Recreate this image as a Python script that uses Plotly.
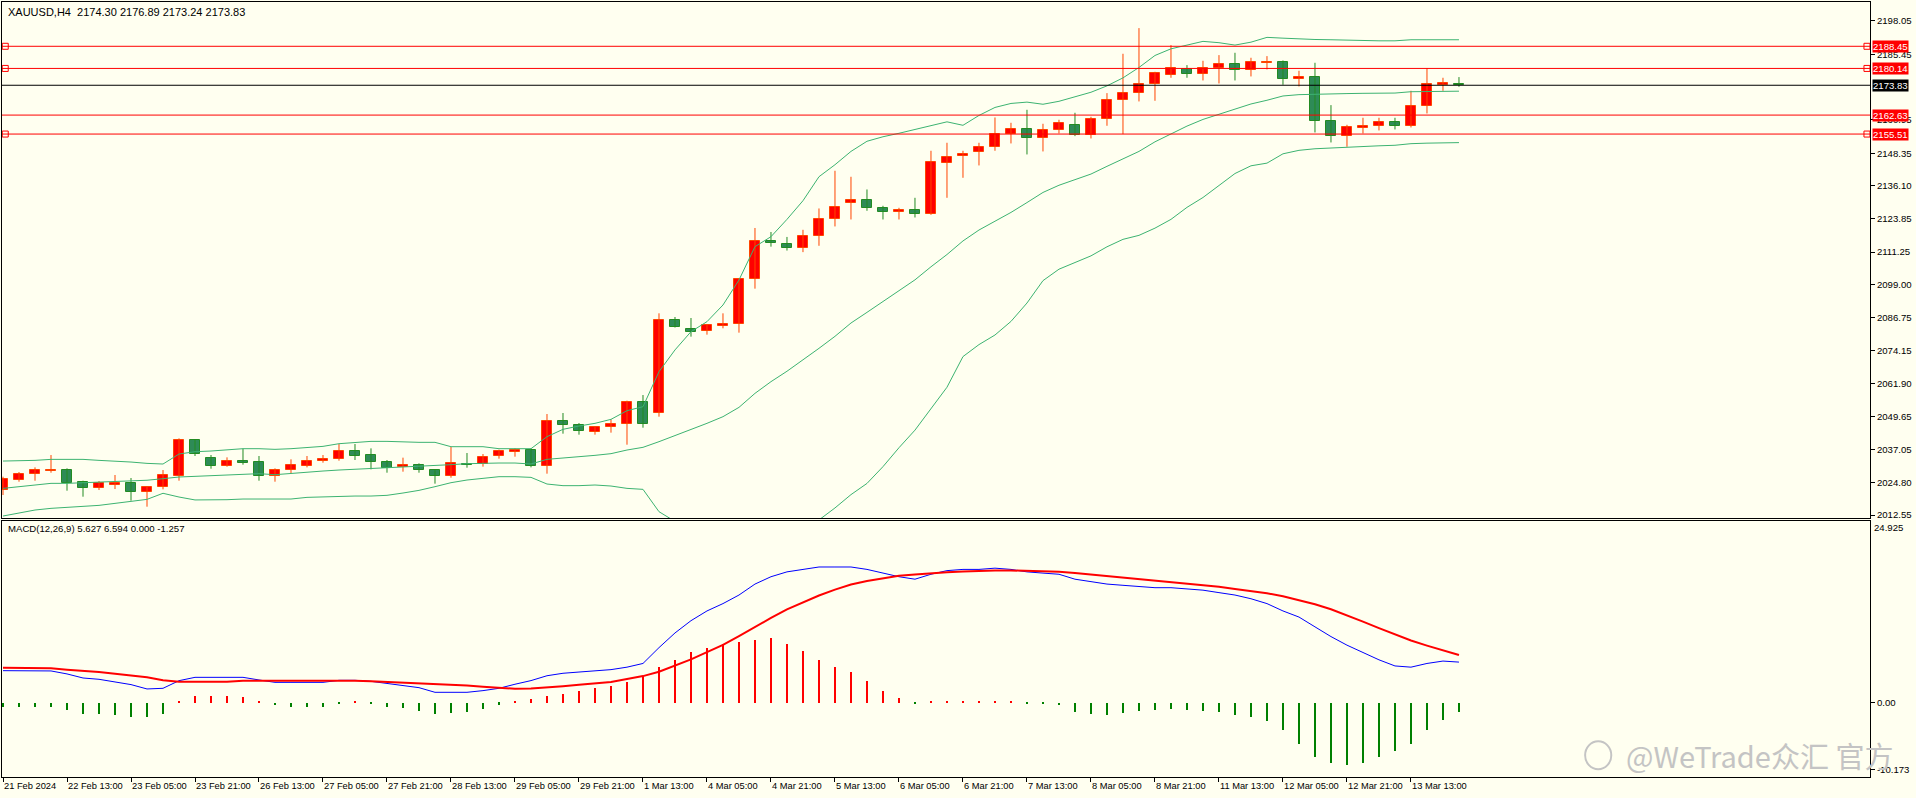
import plotly.graph_objects as go

# ---------------- data ----------------
x_labels = ["21 Feb 2024", "22 Feb 13:00", "23 Feb 05:00", "23 Feb 21:00", "26 Feb 13:00",
            "27 Feb 05:00", "27 Feb 21:00", "28 Feb 13:00", "29 Feb 05:00", "29 Feb 21:00",
            "1 Mar 13:00", "4 Mar 05:00", "4 Mar 21:00", "5 Mar 13:00", "6 Mar 05:00",
            "6 Mar 21:00", "7 Mar 13:00", "8 Mar 05:00", "8 Mar 21:00", "11 Mar 13:00",
            "12 Mar 05:00", "12 Mar 21:00", "13 Mar 13:00"]
x_label_bars = [0, 4, 8, 12, 16, 20, 24, 28, 32, 36, 40, 44, 48, 52, 56, 60, 64, 68, 72, 76, 80, 84, 88]

opens = [2021.93, 2025.68, 2027.81, 2029.18, 2029.43, 2024.80, 2022.55, 2023.93, 2024.43, 2021.05,
         2022.93, 2027.31, 2040.57, 2033.81, 2030.81, 2032.81, 2032.31, 2027.31, 2029.31, 2031.06,
         2032.69, 2033.44, 2036.56, 2035.06, 2032.44, 2030.56, 2031.19, 2029.31, 2027.31, 2031.81,
         2031.56, 2034.81, 2036.32, 2036.82, 2030.81, 2047.82, 2046.20, 2043.57, 2045.45, 2046.57,
         2054.96, 2050.70, 2085.61, 2082.23, 2081.48, 2083.61, 2084.11, 2100.99, 2115.38, 2114.21,
         2112.80, 2117.21, 2123.59, 2129.59, 2130.84, 2127.72, 2126.09, 2127.09, 2125.34, 2144.61,
         2147.11, 2148.61, 2150.61, 2155.49, 2157.37, 2153.99, 2156.99, 2159.00, 2155.11, 2161.12,
         2168.25, 2170.88, 2174.25, 2177.63, 2180.01, 2178.01, 2180.26, 2181.76, 2179.51, 2182.01,
         2182.51, 2176.13, 2176.88, 2160.37, 2154.74, 2157.74, 2158.49, 2159.99, 2158.49, 2166.00,
         2174.00, 2174.30]
highs = [2026.93, 2028.68, 2030.43, 2035.06, 2030.06, 2025.43, 2025.30, 2027.56, 2026.43, 2023.43,
         2029.43, 2041.32, 2040.80, 2035.06, 2034.19, 2037.44, 2034.69, 2030.06, 2033.44, 2034.69,
         2035.06, 2039.19, 2039.19, 2037.56, 2033.19, 2034.07, 2031.94, 2029.40, 2038.07, 2035.82,
         2035.44, 2037.07, 2037.57, 2037.57, 2050.45, 2050.83, 2047.07, 2045.95, 2048.45, 2055.46,
         2057.58, 2088.24, 2086.86, 2086.48, 2083.98, 2088.24, 2101.37, 2120.26, 2118.76, 2116.90,
         2119.58, 2127.59, 2141.73, 2139.48, 2134.72, 2128.59, 2127.84, 2131.59, 2149.24, 2152.24,
         2149.24, 2152.24, 2161.74, 2159.74, 2164.62, 2159.37, 2160.87, 2163.50, 2162.00, 2170.88,
         2185.64, 2195.27, 2178.88, 2188.89, 2181.39, 2183.01, 2185.14, 2186.01, 2184.14, 2184.76,
         2183.14, 2179.26, 2182.26, 2166.37, 2158.99, 2161.62, 2161.62, 2161.62, 2171.75, 2180.26,
         2176.63, 2176.89]
lows = [2020.05, 2025.05, 2025.43, 2028.43, 2021.68, 2019.42, 2021.93, 2022.30, 2017.92, 2015.67,
        2022.18, 2025.43, 2034.69, 2029.93, 2030.68, 2031.43, 2025.43, 2025.05, 2028.18, 2030.43,
        2032.19, 2032.94, 2033.19, 2029.68, 2028.43, 2028.81, 2028.43, 2024.31, 2026.56, 2030.31,
        2030.69, 2033.69, 2034.44, 2030.44, 2028.06, 2043.07, 2042.70, 2042.70, 2043.45, 2038.94,
        2045.32, 2049.45, 2082.90, 2079.48, 2080.23, 2082.61, 2080.98, 2097.49, 2113.25, 2111.80,
        2111.20, 2113.58, 2120.84, 2123.46, 2126.72, 2123.46, 2123.46, 2124.21, 2125.20, 2131.59,
        2139.10, 2143.73, 2149.24, 2151.99, 2147.86, 2148.99, 2155.74, 2154.74, 2153.86, 2158.62,
        2155.49, 2167.75, 2168.00, 2176.63, 2176.63, 2175.63, 2174.50, 2175.63, 2177.13, 2179.76,
        2174.00, 2173.38, 2156.11, 2152.36, 2150.74, 2155.74, 2156.87, 2157.24, 2157.99, 2163.25,
        2171.75, 2173.24]
closes = [2025.93, 2027.81, 2029.43, 2029.43, 2024.68, 2022.55, 2024.43, 2024.55, 2021.05, 2022.93,
          2027.43, 2040.57, 2035.31, 2030.81, 2032.69, 2032.19, 2027.31, 2029.43, 2031.18, 2032.81,
          2033.56, 2036.56, 2034.81, 2032.31, 2030.25, 2031.19, 2029.31, 2027.31, 2031.94, 2031.44,
          2034.19, 2036.44, 2036.94, 2030.81, 2047.70, 2046.20, 2043.95, 2045.45, 2046.57, 2054.96,
          2046.57, 2085.61, 2082.98, 2081.35, 2083.73, 2084.23, 2100.99, 2115.26, 2114.50, 2112.60,
          2117.33, 2123.71, 2128.09, 2130.84, 2127.59, 2126.09, 2126.97, 2125.34, 2145.11, 2146.86,
          2148.11, 2150.61, 2155.36, 2157.37, 2153.86, 2156.99, 2159.62, 2155.00, 2161.12, 2168.25,
          2170.88, 2174.25, 2178.38, 2180.26, 2178.01, 2180.13, 2181.76, 2179.51, 2182.51, 2182.51,
          2176.13, 2176.88, 2160.24, 2154.74, 2158.12, 2158.62, 2159.99, 2158.49, 2166.00, 2174.25,
          2174.63, 2173.83]

bb_upper = [2032.80, 2032.80, 2033.06, 2033.43, 2033.43, 2033.43, 2033.06, 2032.80, 2032.43, 2031.93,
            2031.68, 2035.44, 2036.31, 2036.56, 2037.06, 2037.44, 2037.44, 2037.19, 2037.44, 2037.81,
            2038.31, 2039.31, 2039.81, 2040.19, 2040.19, 2039.90, 2039.82, 2039.82, 2038.19, 2038.19,
            2038.19, 2037.44, 2037.44, 2037.44, 2041.94, 2044.70, 2045.95, 2046.95, 2048.45, 2051.70,
            2053.20, 2066.34, 2074.50, 2081.35, 2085.11, 2091.36, 2100.74, 2113.25, 2117.00, 2123.50,
            2130.50, 2139.50, 2144.00, 2149.00, 2152.80, 2154.50, 2155.80, 2157.20, 2158.80, 2160.10,
            2158.80, 2162.50, 2165.50, 2167.00, 2167.50, 2166.70, 2167.80, 2169.40, 2171.20, 2173.60,
            2176.60, 2180.50, 2185.00, 2187.50, 2189.00, 2190.30, 2189.80, 2188.90, 2190.00, 2191.80,
            2191.50, 2191.20, 2191.00, 2190.90, 2190.70, 2190.60, 2190.50, 2190.50, 2190.90, 2190.90,
            2190.90, 2190.90]
bb_middle = [2022.55, 2023.18, 2023.93, 2024.43, 2024.43, 2024.68, 2024.93, 2025.30, 2025.56, 2025.60,
             2026.18, 2026.81, 2027.06, 2027.31, 2027.56, 2028.06, 2028.06, 2027.68, 2028.18, 2028.81,
             2029.06, 2029.43, 2029.68, 2029.93, 2030.30, 2030.69, 2030.75, 2030.94, 2031.44, 2031.81,
             2032.06, 2032.06, 2032.06, 2031.69, 2033.44, 2033.81, 2034.44, 2034.94, 2035.57, 2036.94,
             2037.95, 2040.07, 2042.32, 2044.45, 2046.95, 2049.45, 2052.95, 2058.20, 2062.59, 2066.50,
             2070.70, 2075.10, 2079.60, 2084.60, 2088.60, 2092.60, 2096.80, 2100.80, 2105.70, 2110.30,
             2115.40, 2119.50, 2122.80, 2126.10, 2129.80, 2133.60, 2136.30, 2138.40, 2140.50, 2143.40,
             2146.30, 2149.00, 2152.60, 2155.50, 2158.50, 2161.00, 2163.00, 2164.80, 2166.80, 2168.20,
             2169.80, 2170.30, 2170.50, 2170.60, 2170.70, 2170.80, 2170.80, 2170.90, 2171.40, 2171.50,
             2171.60, 2171.60]
bb_lower = [2012.17, 2013.17, 2014.42, 2015.05, 2015.42, 2015.67, 2016.17, 2016.92, 2017.55, 2018.42,
            2020.70, 2019.30, 2018.20, 2018.20, 2018.30, 2018.55, 2018.55, 2018.55, 2018.55, 2019.17,
            2019.42, 2019.67, 2019.67, 2019.67, 2019.93, 2020.80, 2021.80, 2023.18, 2024.68, 2025.68,
            2026.30, 2026.93, 2026.93, 2026.68, 2024.18, 2023.56, 2023.56, 2023.81, 2023.43, 2022.55,
            2022.18, 2013.80, 2010.14, 2007.55, 2008.79, 2007.54, 2005.16, 2003.15, 2008.20, 2009.50,
            2010.90, 2010.70, 2015.20, 2020.20, 2024.40, 2030.70, 2037.80, 2044.40, 2052.60, 2060.50,
            2072.00, 2076.50, 2080.10, 2085.20, 2092.10, 2100.50, 2104.80, 2107.40, 2109.80, 2113.20,
            2116.00, 2117.50, 2120.20, 2123.50, 2128.00, 2131.70, 2136.20, 2140.70, 2143.60, 2144.60,
            2148.10, 2149.40, 2150.00, 2150.30, 2150.70, 2151.00, 2151.10, 2151.30, 2151.90, 2152.10,
            2152.30, 2152.30]

macd_main = [4.45, 4.45, 4.45, 4.41, 4.00, 3.44, 3.26, 2.89, 2.53, 1.93,
             2.02, 3.07, 3.53, 3.53, 3.53, 3.53, 3.17, 2.84, 2.84, 2.84,
             2.84, 3.12, 3.12, 2.98, 2.71, 2.48, 2.11, 1.47, 1.47, 1.47,
             1.70, 2.02, 2.58, 3.08, 3.75, 4.09, 4.26, 4.43, 4.59, 4.93,
             5.44, 7.62, 9.64, 11.33, 12.67, 13.68, 14.86, 16.37, 17.38, 18.05,
             18.39, 18.72, 18.72, 18.72, 18.39, 17.88, 17.38, 17.04, 17.72, 18.22,
             18.39, 18.39, 18.56, 18.39, 18.05, 17.88, 17.72, 17.04, 16.71, 16.37,
             16.20, 16.04, 15.87, 15.87, 15.70, 15.53, 15.19, 14.86, 14.35, 13.68,
             12.67, 11.83, 10.48, 9.14, 7.96, 6.95, 5.94, 5.10, 4.93, 5.44,
             5.77, 5.627]
macd_signal = [4.86, 4.86, 4.86, 4.77, 4.59, 4.45, 4.27, 4.04, 3.81, 3.53,
               3.12, 2.94, 2.94, 2.94, 2.94, 3.07, 3.07, 3.07, 3.17, 3.17,
               3.17, 3.17, 3.07, 2.98, 2.89, 2.84, 2.71, 2.61, 2.52, 2.39,
               2.25, 2.06, 1.95, 1.98, 2.10, 2.30, 2.50, 2.70, 2.90, 3.30,
               3.70, 4.30, 5.10, 6.00, 7.00, 8.00, 9.20, 10.50, 11.70, 12.90,
               13.90, 14.80, 15.60, 16.30, 16.80, 17.20, 17.50, 17.70, 17.90, 18.00,
               18.10, 18.20, 18.25, 18.25, 18.20, 18.15, 18.05, 17.90, 17.70, 17.50,
               17.30, 17.05, 16.80, 16.60, 16.40, 16.20, 16.00, 15.70, 15.45, 15.10,
               14.70, 14.20, 13.60, 12.90, 12.10, 11.20, 10.30, 9.40, 8.60, 7.90,
               7.20, 6.594]
macd_hist = [-0.50, -0.60, -0.55, -0.50, -0.90, -1.47, -1.47, -1.60, -1.90, -1.90,
             -1.47, 0.28, 0.96, 0.96, 0.96, 0.83, 0.28, -0.28, -0.50, -0.50,
             -0.50, -0.10, 0.14, -0.10, -0.50, -0.64, -1.05, -1.47, -1.33, -1.20,
             -0.78, -0.23, 0.15, 0.50, 1.00, 1.30, 1.70, 2.00, 2.40, 2.90,
             3.70, 5.00, 5.90, 7.00, 7.60, 8.10, 8.40, 8.70, 8.90, 8.10,
             7.10, 5.90, 5.00, 4.20, 3.00, 1.70, 0.70, -0.20, 0.20, 0.30,
             0.30, 0.20, 0.30, 0.20, -0.10, -0.20, -0.30, -1.30, -1.50, -1.60,
             -1.40, -1.10, -0.90, -0.80, -0.90, -1.10, -1.30, -1.60, -2.00, -2.50,
             -3.70, -5.70, -7.40, -8.20, -8.60, -8.20, -7.40, -6.60, -5.70, -3.70,
             -2.40, -1.257]

price_ticks = [2198.05, 2185.45, 2160.95, 2148.35, 2136.10, 2123.85, 2111.25, 2099.00,
               2086.75, 2074.15, 2061.90, 2049.65, 2037.05, 2024.80, 2012.55]
red_levels = [2188.45, 2180.14, 2162.63, 2155.51]
red_levels_marked = [2188.45, 2180.14, 2155.51]
current_price = 2173.83
title_text = "XAUUSD,H4&nbsp;&nbsp;2174.30 2176.89 2173.24 2173.83"
macd_text = "MACD(12,26,9) 5.627 6.594 0.000 -1.257"
macd_max_label = "24.925"
macd_min_label = "-10.173"
watermark = "@WeTrade众汇 官方"

# ---------------- styling ----------------
BG = "#FFFFF0"
UP_FILL, UP_LINE = "#FF0000", "#FF4500"
DN_FILL, DN_LINE = "#2E8B57", "#228B22"
BAND = "#3CB371"
FONT = "Liberation Sans, Arial, sans-serif"
FS_TITLE = 11
FS_MACD = 9.6
FS_Y = 9.6
FS_X = 9.3

n = len(closes)
bars = list(range(n))

fig = go.Figure()

# wicks
for up, col in [(True, UP_LINE), (False, DN_LINE)]:
    xs, ys = [], []
    for i in bars:
        if (closes[i] >= opens[i]) == up:
            xs += [i, i, None]
            ys += [lows[i], highs[i], None]
    fig.add_trace(go.Scatter(x=xs, y=ys, mode="lines", line=dict(color=col, width=1),
                             xaxis="x", yaxis="y", hoverinfo="skip"))

# bodies
for up, fill, line in [(True, UP_FILL, UP_LINE), (False, DN_FILL, DN_LINE)]:
    idx = [i for i in bars if (closes[i] >= opens[i]) == up]
    fig.add_trace(go.Bar(
        x=idx,
        base=[min(opens[i], closes[i]) for i in idx],
        y=[max(abs(closes[i] - opens[i]), 0.05) for i in idx],
        width=0.6,
        marker=dict(color=fill, line=dict(color=line, width=1)),
        xaxis="x", yaxis="y", hoverinfo="skip"))

# Bollinger bands
for band in (bb_upper, bb_middle, bb_lower):
    fig.add_trace(go.Scatter(x=bars, y=band, mode="lines", line=dict(color=BAND, width=1),
                             xaxis="x", yaxis="y", hoverinfo="skip"))

# level markers (small squares at line ends)
X_MIN, X_MAX = -0.0625, 116.69
for lv in red_levels_marked:
    fig.add_trace(go.Scatter(x=[0.14, 116.5], y=[lv, lv], mode="markers",
                             marker=dict(symbol="square", size=6, color=BG,
                                         line=dict(color="#FF0000", width=1)),
                             xaxis="x", yaxis="y", hoverinfo="skip", cliponaxis=False))

# MACD panel
hist_cols = ["#FF0000" if v > 0 else "#008000" for v in macd_hist]
fig.add_trace(go.Bar(x=bars, y=macd_hist, width=0.14, marker=dict(color=hist_cols, line=dict(width=0)),
                     xaxis="x2", yaxis="y2", hoverinfo="skip"))
fig.add_trace(go.Scatter(x=bars, y=macd_main, mode="lines", line=dict(color="#0000FF", width=1),
                         xaxis="x2", yaxis="y2", hoverinfo="skip"))
fig.add_trace(go.Scatter(x=bars, y=macd_signal, mode="lines", line=dict(color="#FF0000", width=2),
                         xaxis="x2", yaxis="y2", hoverinfo="skip"))

# horizontal level lines
shapes = []
for lv in red_levels:
    shapes.append(dict(type="line", xref="x domain", x0=0, x1=1, yref="y", y0=lv, y1=lv,
                       line=dict(color="#FF0000", width=1), layer="above"))
shapes.append(dict(type="line", xref="x domain", x0=0, x1=1, yref="y", y0=current_price,
                   y1=current_price, line=dict(color="#000000", width=1), layer="above"))

annotations = []
for lv in red_levels:
    annotations.append(dict(xref="paper", x=1, xanchor="left", xshift=2, yref="y", y=lv,
                            text=f"{lv:.2f}", showarrow=False, bgcolor="#FF0000",
                            font=dict(family=FONT, size=FS_Y, color="white"), borderpad=0))
annotations.append(dict(xref="paper", x=1, xanchor="left", xshift=2, yref="y", y=current_price,
                        text=f"{current_price:.2f}", showarrow=False, bgcolor="#000000",
                        font=dict(family=FONT, size=FS_Y, color="white"), borderpad=0))
annotations.append(dict(xref="paper", x=0, xanchor="left", xshift=4, yref="paper", y=1,
                        yanchor="top", yshift=-2, text=title_text, showarrow=False,
                        font=dict(family=FONT, size=FS_TITLE, color="black")))
annotations.append(dict(xref="paper", x=0, xanchor="left", xshift=4, yref="y2 domain", y=1,
                        yanchor="top", yshift=0, text=macd_text, showarrow=False,
                        font=dict(family=FONT, size=FS_MACD, color="black")))
annotations.append(dict(xref="paper", x=1, xanchor="left", xshift=2, yref="y2", y=24.09,
                        text=macd_max_label, showarrow=False,
                        font=dict(family=FONT, size=FS_Y, color="black")))
annotations.append(dict(xref="paper", x=0.941, xanchor="center", yref="paper", y=0.028,
                        yanchor="middle", text=watermark, showarrow=False,
                        font=dict(family="Noto Sans CJK SC", size=29, color="#c4c4c4")))
shapes.append(dict(type="circle", xref="paper", yref="paper",
                   x0=0.8475, x1=0.8615, y0=0.010, y1=0.046,
                   line=dict(color="#c4c4c4", width=2)))

axis_common = dict(showline=True, mirror=True, linecolor="black", linewidth=1,
                   showgrid=False, zeroline=False, automargin=False)

fig.update_layout(
    width=1916, height=798,
    margin=dict(l=2, r=46, t=2, b=21),
    paper_bgcolor=BG, plot_bgcolor=BG,
    showlegend=False, barmode="overlay", bargap=0,
    font=dict(family=FONT, size=FS_Y, color="black"),
    xaxis=dict(domain=[0, 1], anchor="y", range=[X_MIN, X_MAX], showticklabels=False,
               ticks="", **axis_common),
    yaxis=dict(domain=[0.3342, 1], anchor="x", side="right", range=[2011.43, 2205.07],
               tickvals=price_ticks, ticktext=[f"{v:.2f}" for v in price_ticks],
               ticks="outside", ticklen=4, tickcolor="black",
               tickfont=dict(family=FONT, size=FS_Y, color="black"), **axis_common),
    xaxis2=dict(domain=[0, 1], anchor="y2", range=[X_MIN, X_MAX], matches="x",
                tickvals=x_label_bars, ticktext=x_labels, ticks="outside", ticklen=4,
                tickcolor="black", ticklabelposition="outside right", tickangle=0,
                tickfont=dict(family=FONT, size=FS_X, color="black"), **axis_common),
    yaxis2=dict(domain=[0, 0.3303], anchor="x2", side="right", range=[-10.19, 25.05],
                tickvals=[0, -9.22], ticktext=["0.00", macd_min_label],
                ticks="outside", ticklen=4, tickcolor="black",
                tickfont=dict(family=FONT, size=FS_Y, color="black"), **axis_common),
    shapes=shapes, annotations=annotations,
)

fig.write_html("out.html")
